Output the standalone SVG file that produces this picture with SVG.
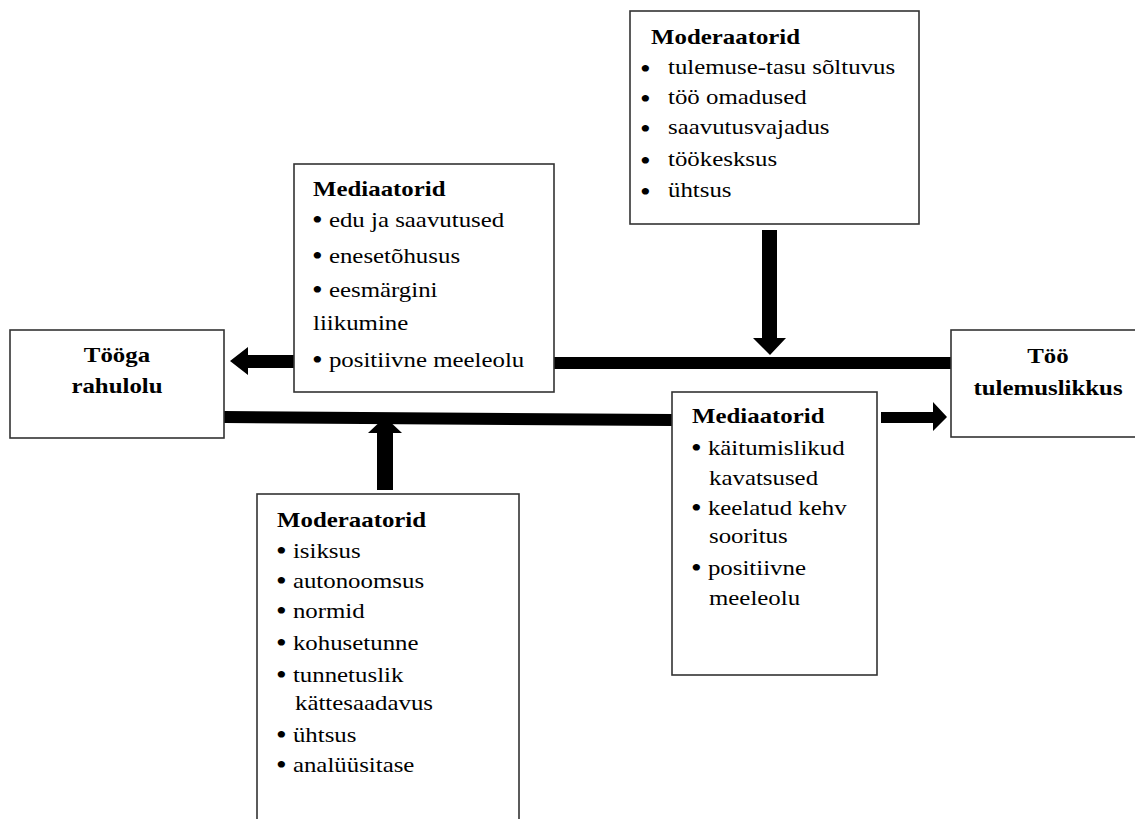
<svg xmlns="http://www.w3.org/2000/svg" width="1135" height="819" viewBox="0 0 1135 819">
<style>
.box{fill:#fff;stroke:#333;stroke-width:1.6}
.t{font-family:"Liberation Serif","Times New Roman",serif;font-size:22px;fill:#000}
.b{font-weight:bold}
.c{text-anchor:middle}
.bu{font-size:27px;baseline-shift:-2px}
.con{fill:#000;stroke:none}
</style>
<rect width="1135" height="819" fill="#fff"/>
<g id="connectors">
<rect class="con" x="554" y="357" width="398" height="12"/>
<polygon class="con" points="224,411 672,414 672,426 224,423"/>
<polygon class="con" points="294,355 248,355 248,347 230,361 248,375 248,368 294,368"/>
<polygon class="con" points="762,230 777,230 777,338 786,338 770,355 753,338 762,338"/>
<polygon class="con" points="377,490 393,490 393,433 402,433 385,417 368,433 377,433"/>
<polygon class="con" points="881,412 933,412 933,402 947,417 933,431 933,423 881,423"/>
</g>
<g id="moderaatorid-top">
<rect class="box" x="630" y="11" width="289" height="213"/>
<text class="t b" transform="translate(651,44) scale(1.13,1)">Moderaatorid</text>
<text class="t bu" transform="translate(640,76) scale(1.13,1)">•</text>
<text class="t" transform="translate(668,74) scale(1.13,1)">tulemuse-tasu sõltuvus</text>
<text class="t bu" transform="translate(640,106) scale(1.13,1)">•</text>
<text class="t" transform="translate(668,104) scale(1.13,1)">töö omadused</text>
<text class="t bu" transform="translate(640,136) scale(1.13,1)">•</text>
<text class="t" transform="translate(668,134) scale(1.13,1)">saavutusvajadus</text>
<text class="t bu" transform="translate(640,168) scale(1.13,1)">•</text>
<text class="t" transform="translate(668,166) scale(1.13,1)">töökesksus</text>
<text class="t bu" transform="translate(640,199) scale(1.13,1)">•</text>
<text class="t" transform="translate(668,197) scale(1.13,1)">ühtsus</text>
</g>
<g id="mediaatorid-left">
<rect class="box" x="294" y="164" width="260" height="228"/>
<text class="t b" transform="translate(313,196) scale(1.13,1)">Mediaatorid</text>
<text class="t" transform="translate(312,227) scale(1.13,1)"><tspan class="bu">•</tspan> edu ja saavutused</text>
<text class="t" transform="translate(312,263) scale(1.13,1)"><tspan class="bu">•</tspan> enesetõhusus</text>
<text class="t" transform="translate(312,297) scale(1.13,1)"><tspan class="bu">•</tspan> eesmärgini</text>
<text class="t" transform="translate(313,330) scale(1.13,1)">liikumine</text>
<text class="t" transform="translate(312,367) scale(1.13,1)"><tspan class="bu">•</tspan> positiivne meeleolu</text>
</g>
<g id="tooga-rahulolu">
<rect class="box" x="10" y="330" width="214" height="108"/>
<text class="t b c" transform="translate(117,362) scale(1.13,1)">Tööga</text>
<text class="t b c" transform="translate(117,393) scale(1.13,1)">rahulolu</text>
</g>
<g id="too-tulemuslikkus">
<rect class="box" x="951" y="330" width="200" height="107"/>
<text class="t b c" transform="translate(1048,363) scale(1.13,1)">Töö</text>
<text class="t b c" transform="translate(1048,395) scale(1.13,1)">tulemuslikkus</text>
</g>
<g id="mediaatorid-right">
<rect class="box" x="672" y="392" width="205" height="283"/>
<text class="t b" transform="translate(692,423) scale(1.13,1)">Mediaatorid</text>
<text class="t" transform="translate(691,455) scale(1.13,1)"><tspan class="bu">•</tspan> käitumislikud</text>
<text class="t" transform="translate(709,485) scale(1.13,1)">kavatsused</text>
<text class="t" transform="translate(691,515) scale(1.13,1)"><tspan class="bu">•</tspan> keelatud kehv</text>
<text class="t" transform="translate(709,543) scale(1.13,1)">sooritus</text>
<text class="t" transform="translate(691,575) scale(1.13,1)"><tspan class="bu">•</tspan> positiivne</text>
<text class="t" transform="translate(709,605) scale(1.13,1)">meeleolu</text>
</g>
<g id="moderaatorid-bottom">
<rect class="box" x="257" y="494" width="262" height="340"/>
<text class="t b" transform="translate(277,527) scale(1.13,1)">Moderaatorid</text>
<text class="t" transform="translate(276,558) scale(1.13,1)"><tspan class="bu">•</tspan> isiksus</text>
<text class="t" transform="translate(276,588) scale(1.13,1)"><tspan class="bu">•</tspan> autonoomsus</text>
<text class="t" transform="translate(276,618) scale(1.13,1)"><tspan class="bu">•</tspan> normid</text>
<text class="t" transform="translate(276,650) scale(1.13,1)"><tspan class="bu">•</tspan> kohusetunne</text>
<text class="t" transform="translate(276,682) scale(1.13,1)"><tspan class="bu">•</tspan> tunnetuslik</text>
<text class="t" transform="translate(295,710) scale(1.13,1)">kättesaadavus</text>
<text class="t" transform="translate(276,742) scale(1.13,1)"><tspan class="bu">•</tspan> ühtsus</text>
<text class="t" transform="translate(276,772) scale(1.13,1)"><tspan class="bu">•</tspan> analüüsitase</text>
</g>
</svg>
